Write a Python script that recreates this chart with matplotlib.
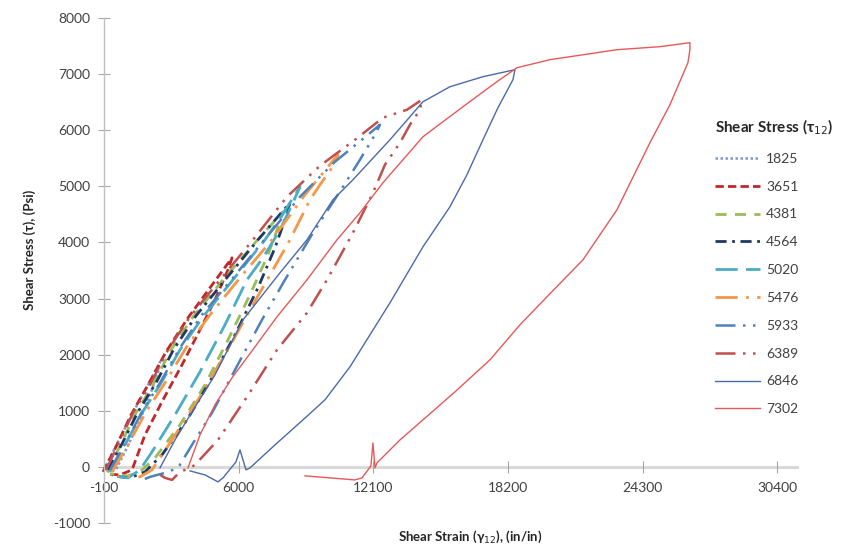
import matplotlib
matplotlib.use("Agg")
import matplotlib.pyplot as plt

plt.rcParams['font.family'] = ['Lato', 'DejaVu Sans']

# ---------------- data (strain as plotted, stress in psi) ----------------
labels = ["1825", "3651", "4381", "4564", "5020", "5476", "5933", "6389", "6846", "7302"]

strain_1825 = [-100, 400, 990, 1530, 2070, 2440, 2350, 1980, 1440, 850, 440, 170, -100]
stress_1825 = [-50, 340, 800, 1200, 1590, 1870, 1690, 1280, 750, 270, -50, -90, -50]

strain_3651 = [-145, 443, 1123, 1893, 2708, 3704, 4701, 5697, 5516, 4927, 4248, 3433, 2572, 1757, 1168, 625, -9]
stress_3651 = [-89, 357, 927, 1462, 2050, 2657, 3192, 3726, 3513, 2978, 2443, 1819, 1195, 571, -53, -143, -125]

strain_4381 = [36, 625, 1349, 2119, 2934, 3931, 5290, 6739, 8007, 7871, 7328, 6512, 5516, 4474, 3342, 2210, 1530, 987, 172]
stress_4381 = [-89, 374, 963, 1462, 2086, 2675, 3334, 3994, 4547, 4368, 3780, 3067, 2264, 1462, 749, 160, -89, -160, -125]

strain_4564 = [81, 715, 1440, 2255, 3070, 4067, 5425, 6875, 8324, 8188, 7645, 6875, 5878, 4791, 3659, 2527, 1757, 1078, 262]
stress_4564 = [-53, 410, 981, 1498, 2104, 2692, 3352, 4047, 4707, 4511, 3905, 3192, 2389, 1587, 838, 214, -89, -196, -160]

strain_5020 = [172, 851, 1621, 2436, 3342, 4384, 5742, 7192, 8007, 8777, 8415, 7871, 7101, 6376, 5380, 4248, 3116, 2074, 1530, 987, 398]
stress_5020 = [-89, 392, 963, 1462, 2086, 2675, 3334, 4047, 4511, 4992, 4671, 4226, 3726, 3334, 2532, 1694, 927, 267, -53, -196, -160]

strain_5476 = [262, 987, 1802, 2663, 3614, 4701, 6059, 7509, 9003, 10498, 10317, 9683, 9230, 8324, 7554, 6512, 5380, 4157, 2980, 2074, 1530, 534]
stress_5476 = [-89, 392, 981, 1498, 2122, 2710, 3370, 4047, 4850, 5563, 5385, 5028, 4761, 4047, 3513, 2799, 1997, 1195, 481, -53, -178, -160]

strain_5933 = [172, 851, 1621, 2436, 3342, 4338, 5742, 7237, 8777, 10362, 11857, 12400, 12174, 11494, 10724, 9366, 8097, 7056, 6150, 4791, 3886, 3251, 2663, 1983, 1440]
stress_5933 = [-53, 410, 981, 1498, 2122, 2710, 3370, 4083, 4814, 5438, 5920, 6098, 5920, 5474, 4992, 4172, 3334, 2621, 1961, 963, 392, -18, -107, -178, -267]

strain_6389 = [-9, 534, 1213, 1983, 2799, 3795, 5154, 6648, 8188, 9683, 11268, 12536, 13623, 14302,
               14212, 13759, 13306, 12626, 12083, 11177, 10000, 9094, 7735, 6376, 5063, 4021, 3795,
               3342, 2980, 2663, 2300]
stress_6389 = [-53, 392, 963, 1462, 2086, 2675, 3334, 4047, 4814, 5367, 5830, 6223, 6365, 6544,
               6365, 6098, 5777, 5385, 4885, 4172, 3334, 2746, 2086, 1248, 481, 36, -18,
               -89, -232, -196, -107]

strain_6846 = [2436, 3116, 3886, 4927, 6195, 7871, 9094, 10271, 11177, 12853, 14348, 15570, 17065, 18514,
               18424, 17744, 17065, 16340, 15570, 14348, 12853, 11041, 9909, 8913, 7645, 6512,
               6331, 6059, 5878, 5290, 5063, 4474, 3795]
stress_6846 = [-18, 481, 981, 1640, 2621, 3459, 4047, 4761, 5117, 5830, 6508, 6775, 6954, 7079,
               6900, 6401, 5830, 5206, 4636, 3923, 2924, 1783, 1195, 838, 392, -18,
               -53, 303, 89, -196, -267, -143, -71]

strain_7302 = [3704, 4248, 4927, 5697, 6739, 7735, 9094, 10453, 11494, 12536, 14348, 16159, 17699, 18605,
               20099, 23134, 25081, 26440,
               26440, 26349, 25534, 24628, 23134, 21594, 19963, 18741, 17382, 15797, 14348, 13306,
               12264, 12174, 12083, 11992, 11585, 11268, 10136, 9003]
stress_7302 = [-18, 571, 1105, 1587, 2140, 2675, 3334, 4047, 4529, 5064, 5884, 6419, 6865, 7114,
               7257, 7435, 7489, 7560,
               7435, 7203, 6454, 5777, 4582, 3691, 3031, 2532, 1908, 1337, 838, 481,
               71, -18, 428, 18, -196, -232, -196, -160]

x_ticks = [-100, 6000, 12100, 18200, 24300, 30400]
y_ticks = [-1000, 0, 1000, 2000, 3000, 4000, 5000, 6000, 7000, 8000]

strains = [strain_1825, strain_3651, strain_4381, strain_4564, strain_5020,
           strain_5476, strain_5933, strain_6389, strain_6846, strain_7302]
stresses = [stress_1825, stress_3651, stress_4381, stress_4564, stress_5020,
            stress_5476, stress_5933, stress_6389, stress_6846, stress_7302]

# ---------------- styles ----------------
colors = ['#7f96d2', '#c0282d', '#9bbb59', '#1f3864', '#4bacc6',
          '#f79646', '#4f81bd', '#c0504d', '#4a6aa8', '#e8585a']
styles = [(0, (1, 1)), (0, (3, 1.5)), (0, (4, 3)), (0, (4, 2, 1, 2)), (0, (8, 3)),
          (0, (8, 3, 1, 3)), (0, (8, 3, 1, 3, 1, 3)), (0, (8, 3, 1, 3, 1, 3)), '-', '-']
widths = [1.8, 2.0, 2.0, 2.0, 2.0, 2.0, 1.8, 1.8, 1.0, 1.0]

fig = plt.figure(figsize=(8.42, 5.47), dpi=100)
ax = fig.add_axes([104 / 842, 1 - 523 / 547, (797 - 104) / 842, (523 - 18) / 547])

for xs, ys, c, ls, lw, lab in zip(strains, stresses, colors, styles, widths, labels):
    ax.plot(xs, ys, color=c, linestyle=ls, linewidth=lw, label=lab, clip_on=False)

ax.set_xlim(-100, 31290)
ax.set_ylim(-1000, 8000)
ax.set_xticks(x_ticks)
ax.set_xticklabels([str(v) for v in x_ticks])
ax.set_yticks(y_ticks)
ax.set_yticklabels([str(v) for v in y_ticks])

for s in ['top', 'right']:
    ax.spines[s].set_visible(False)
ax.spines['bottom'].set_position(('data', 0))
ax.spines['bottom'].set_color('#d9d9d9')
ax.spines['bottom'].set_linewidth(2.2)
ax.spines['bottom'].set_zorder(0)
ax.spines['left'].set_color('#bfbfbf')
ax.spines['left'].set_linewidth(1.0)
ax.tick_params(axis='both', direction='inout', length=8, color='#a6a6a6',
               labelsize=10, labelcolor='#404040')
ax.tick_params(axis='x', pad=7)
ax.tick_params(axis='y', pad=6)

fig.text(30 / 842, 1 - 250 / 547, 'Shear Stress (τ), (Psi)', rotation=90, ha='center', va='center',
         fontsize=9.5, fontweight='bold', color='#262626')
fig.text(470 / 842, 1 - 537 / 547, 'Shear Strain (γ$_{12}$), (in/in)', ha='center', va='center',
         fontsize=9.5, fontweight='bold', color='#262626')

leg = ax.legend(loc='upper left', bbox_to_anchor=(709 / 842, 1 - 112 / 547),
                bbox_transform=fig.transFigure, frameon=False, fontsize=10,
                title='Shear Stress (τ$_{12}$)', handlelength=3.3, handletextpad=0.4,
                labelspacing=1.14, borderaxespad=0, alignment='left')
leg.get_title().set_fontweight('bold')
leg.get_title().set_fontsize(11)
leg.get_title().set_color('#262626')
for t in leg.get_texts():
    t.set_color('#404040')

fig.savefig('out.png', dpi=100)
